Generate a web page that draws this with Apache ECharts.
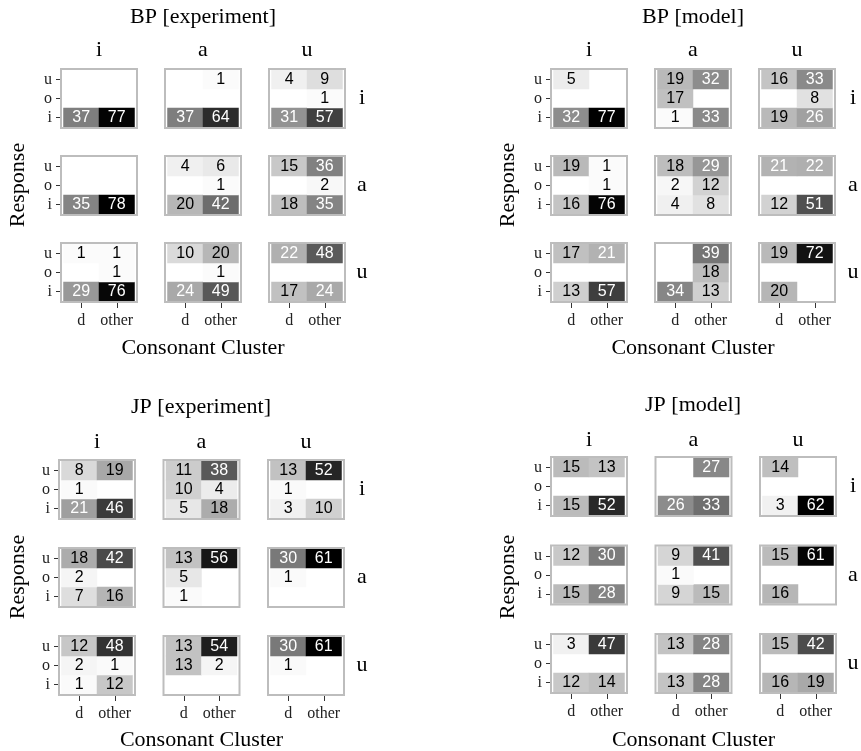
<!DOCTYPE html>
<html><head><meta charset="utf-8">
<script src="https://cdn.jsdelivr.net/npm/echarts@6/dist/echarts.min.js"></script>
<style>html,body{margin:0;padding:0;background:#fff}#c{width:861px;height:751px}</style>
</head><body><div id="c"></div>
<script>
// ---- data ----
const xCats = ['d', 'other'];
const yCats = ['i', 'o', 'u'];
const facetCols = ['i', 'a', 'u'];
const facetRows = ['i', 'a', 'u'];
const panelTitles = ['BP [experiment]', 'BP [model]', 'JP [experiment]', 'JP [model]'];
const xAxisTitle = 'Consonant Cluster';
const yAxisTitle = 'Response';
// value[facetRow][facetCol][response i,o,u][d, other]; 0 = empty cell
const bpExperiment = [
  [ [[37,77],[0,0],[0,0]], [[37,64],[0,0],[0,1]], [[31,57],[0,1],[4,9]] ],
  [ [[35,78],[0,0],[0,0]], [[20,42],[0,1],[4,6]], [[18,35],[0,2],[15,36]] ],
  [ [[29,76],[0,1],[1,1]], [[24,49],[0,1],[10,20]], [[17,24],[0,0],[22,48]] ]
];
const bpModel = [
  [ [[32,77],[0,0],[5,0]], [[1,33],[17,0],[19,32]], [[19,26],[0,8],[16,33]] ],
  [ [[16,76],[0,1],[19,1]], [[4,8],[2,12],[18,29]], [[12,51],[0,0],[21,22]] ],
  [ [[13,57],[0,0],[17,21]], [[34,13],[0,18],[0,39]], [[20,0],[0,0],[19,72]] ]
];
const jpExperiment = [
  [ [[21,46],[1,0],[8,19]], [[5,18],[10,4],[11,38]], [[3,10],[1,0],[13,52]] ],
  [ [[7,16],[2,0],[18,42]], [[1,0],[5,0],[13,56]], [[0,0],[1,0],[30,61]] ],
  [ [[1,12],[2,1],[12,48]], [[0,0],[13,2],[13,54]], [[0,0],[1,0],[30,61]] ]
];
const jpModel = [
  [ [[15,52],[0,0],[15,13]], [[26,33],[0,0],[0,27]], [[3,62],[0,0],[14,0]] ],
  [ [[15,28],[0,0],[12,30]], [[9,15],[1,0],[9,41]], [[16,0],[0,0],[15,61]] ],
  [ [[12,14],[0,0],[3,47]], [[13,28],[0,0],[13,28]], [[16,19],[0,0],[15,42]] ]
];
const panels = [bpExperiment, bpModel, jpExperiment, jpModel];

// ---- layout ----
const layouts = [
  {fx:60,  fy:68,  cs:104, rs:87, tx:203, ty:17,  sy:50,  rx:362, respX:18,  respY:185, aty:348},
  {fx:550, fy:68,  cs:104, rs:87, tx:693, ty:17,  sy:50,  rx:853, respX:508, respY:185, aty:348},
  {fx:58,  fy:459, cs:104.5, rs:88, tx:201, ty:407, sy:442, rx:362, respX:18,  respY:577, aty:740},
  {fx:550, fy:456, cs:104.5, rs:88.5, tx:693, ty:405, sy:440, rx:853, respX:508, respY:577, aty:740}
];
const BW = 78, BH = 61;
const SERIF = 'Liberation Serif';
const SANS = 'Liberation Sans';
const gradient = ['#ffffff','#e2e2e2','#c6c6c6','#ababab','#919191','#777777','#5e5e5e','#474747','#303030','#1b1b1b','#000000'];

const grids = [], xAxes = [], yAxes = [], series = [], visualMaps = [], graphics = [];
panels.forEach((pd, p) => {
  const L = layouts[p];
  let pmax = 0;
  pd.forEach(r => r.forEach(f => f.forEach(row => row.forEach(v => { if (v > pmax) pmax = v; }))));
  const sIdx = [];
  for (let r = 0; r < 3; r++) {
    for (let c = 0; c < 3; c++) {
      const bx = L.fx + c * L.cs, by = L.fy + r * L.rs;
      const k = grids.length;
      grids.push({left: bx + 3.5, top: by + 2, width: BW - 7, height: BH - 4});
      xAxes.push({
        gridIndex: k, type: 'category', data: xCats, position: 'bottom', offset: 2,
        show: r === 2,
        axisLine: {show: false}, splitLine: {show: false},
        axisTick: {show: true, length: 5, alignWithLabel: true, interval: 0, lineStyle: {color: '#333', width: 1}},
        axisLabel: {show: true, interval: 0, margin: 10, fontFamily: SERIF, fontSize: 16, color: '#222'}
      });
      yAxes.push({
        gridIndex: k, type: 'category', data: yCats, position: 'left', offset: 3.5,
        show: c === 0,
        axisLine: {show: false}, splitLine: {show: false},
        axisTick: {show: true, length: 4, alignWithLabel: true, interval: 0, lineStyle: {color: '#333', width: 1}},
        axisLabel: {show: true, interval: 0, margin: 8, fontFamily: SERIF, fontSize: 16, color: '#222'}
      });
      const data = [];
      pd[r][c].forEach((row, yi) => row.forEach((v, xi) => {
        if (v > 0) data.push({value: [xi, yi, v], label: {color: v > 20 ? '#ffffff' : '#000000'}});
      }));
      sIdx.push(series.length);
      series.push({
        type: 'heatmap', xAxisIndex: k, yAxisIndex: k, data: data,
        label: {show: true, formatter: q => q.value[2], fontFamily: SANS, fontSize: 16},
        emphasis: {disabled: true}
      });
      graphics.push({type: 'rect', z: 100, silent: true,
        shape: {x: bx + 1, y: by + 1, width: BW - 2, height: BH - 2},
        style: {fill: 'none', stroke: '#bdbdbd', lineWidth: 2}});
    }
  }
  visualMaps.push({type: 'continuous', show: false, min: 0, max: pmax, dimension: 2,
    seriesIndex: sIdx, inRange: {color: gradient}});
  // texts
  const txt = (x, y, s, size, rot) => graphics.push({type: 'text', x: x, y: y, rotation: rot || 0, silent: true,
    style: {text: s, font: size + 'px "' + SERIF + '"', fill: '#000', textAlign: 'center', textVerticalAlign: 'middle'}});
  txt(L.tx, L.ty, panelTitles[p], 22);
  facetCols.forEach((s, c) => txt(L.fx + c * L.cs + BW / 2, L.sy, s, 22));
  facetRows.forEach((s, r) => txt(L.rx, L.fy + r * L.rs + BH / 2, s, 22));
  txt(L.respX, L.respY, yAxisTitle, 22, Math.PI / 2);
  txt(L.fx + L.cs + BW / 2, L.aty, xAxisTitle, 22);
});

const chart = echarts.init(document.getElementById('c'), null, {renderer: 'canvas'});
chart.setOption({
  animation: false,
  backgroundColor: '#ffffff',
  grid: grids, xAxis: xAxes, yAxis: yAxes, series: series,
  visualMap: visualMaps, graphic: graphics
});
</script></body></html>
